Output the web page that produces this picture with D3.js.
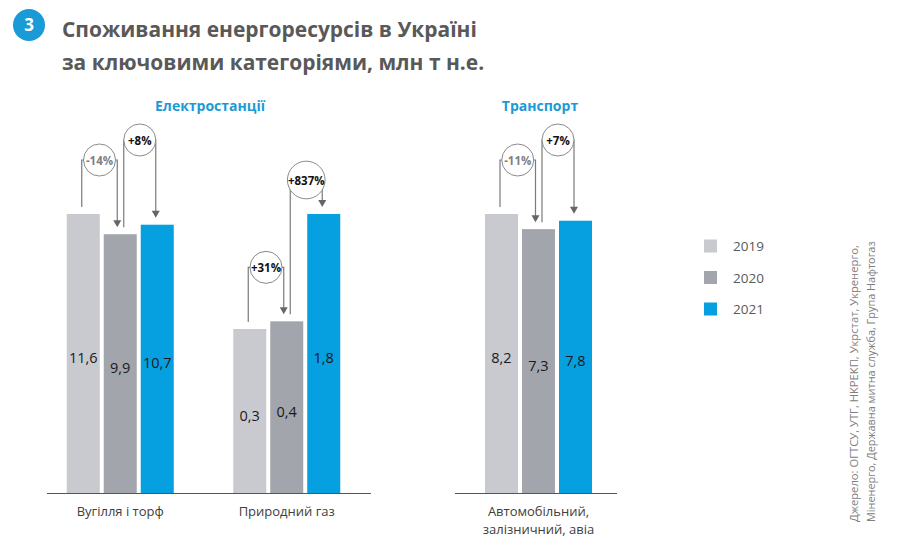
<!DOCTYPE html>
<html>
<head>
<meta charset="utf-8">
<script src="https://cdn.jsdelivr.net/npm/d3@7"></script>
<style>
  html, body { margin: 0; padding: 0; background: #ffffff; }
  svg { display: block; }
  text { font-family: "Open Sans", "Noto Sans", sans-serif; }
</style>
</head>
<body>
<svg id="chart" width="902" height="547"></svg>
<script>
// ---------- DATA ----------
const badgeNumber = "3";
const titleLines = ["Споживання енергоресурсів в Україні", "за ключовими категоріями, млн т н.е."];
const sections = ["Електростанції", "Транспорт"];
const categories = ["Вугілля і торф", "Природний газ", "Автомобільний, залізничний, авіа"];
const categorySection = ["Електростанції", "Електростанції", "Транспорт"];
const years = ["2019", "2020", "2021"];
const values2019 = [11.6, 0.3, 8.2];
const values2020 = [9.9, 0.4, 7.3];
const values2021 = [10.7, 1.8, 7.8];
const change2019to2020 = ["-14%", "+31%", "-11%"];
const change2020to2021 = ["+8%", "+837%", "+7%"];
const sourceLines = ["Джерело: ОГТСУ, УТГ, НКРЕКП, Укрстат, Укренерго,", "Міненерго, Державна митна служба, Група Нафтогаз"];

// ---------- STYLE / LAYOUT ----------
const colors = { "2019": "#c9cacf", "2020": "#a2a5ab", "2021": "#069fe0" };
const blue = "#1a9ad7";
const grey = "#595959";
const lineGrey = "#7a7a7a";
const baseY = 493;
const stub = 141;      // visual stub of bars (stylised, non-zero based)
const fullH = 279;     // height of the largest bar in each group
const panels = {
  "Електростанції": { range: [37, 370], axis: [47, 371], headerX: 210 },
  "Транспорт": { range: [455, 622], axis: [455, 617], headerX: 540 }
};

const svg = d3.select("#chart");
const valuesByYear = { "2019": values2019, "2020": values2020, "2021": values2021 };
const fmt = v => String(v.toFixed(1)).replace(".", ",");

function fitFont(sel, targetW, base) {
  sel.attr("font-size", base);
  const w = sel.node().getComputedTextLength();
  sel.attr("font-size", base * targetW / w);
}

// ---------- HEADER ----------
svg.append("circle").attr("cx", 29).attr("cy", 25).attr("r", 16).attr("fill", blue);
svg.append("text").attr("x", 29).attr("y", 31).attr("text-anchor", "middle")
  .attr("font-size", 17).attr("font-weight", 700).attr("fill", "#fff").text(badgeNumber);

const tl1 = svg.append("text").attr("x", 62).attr("y", 37).attr("font-weight", 700).attr("fill", grey).text(titleLines[0]);
fitFont(tl1, 415, 22);
const tl2 = svg.append("text").attr("x", 62).attr("y", 70).attr("font-weight", 700).attr("fill", grey).text(titleLines[1]);
tl2.attr("font-size", tl1.attr("font-size"));

// section headers
sections.forEach(s => {
  svg.append("text").attr("x", panels[s].headerX).attr("y", 111)
    .attr("text-anchor", "middle").attr("font-size", 14).attr("font-weight", 700)
    .attr("fill", blue).text(s);
  const a = panels[s].axis;
  svg.append("line").attr("x1", a[0]).attr("x2", a[1]).attr("y1", baseY + 0.5).attr("y2", baseY + 0.5)
    .attr("stroke", "#555").attr("stroke-width", 1.2);
});

// ---------- SCALES ----------
const xGroup = {};
sections.forEach(s => {
  xGroup[s] = d3.scaleBand()
    .domain(categories.filter((c, i) => categorySection[i] === s))
    .range(panels[s].range).paddingInner(0).paddingOuter(0);
});
const xYear = d3.scaleBand().domain(years).range([-53.5, 53.5]).paddingInner(4 / 37).paddingOuter(0);

categories.forEach((cat, i) => {
  const sec = categorySection[i];
  const gx = xGroup[sec](cat) + xGroup[sec].bandwidth() / 2;
  const vals = years.map(y => valuesByYear[y][i]);
  const yScale = d3.scaleLinear().domain([0, d3.max(vals)]).range([baseY - stub, baseY - fullH]);

  const g = svg.append("g");
  years.forEach((yr, k) => {
    const v = vals[k];
    const x0 = gx + xYear(yr);
    const top = yScale(v);
    g.append("rect").attr("x", x0).attr("y", top).attr("width", xYear.bandwidth())
      .attr("height", baseY - top).attr("fill", colors[yr]);
    g.append("text").attr("x", x0 + xYear.bandwidth() / 2).attr("y", (top + baseY) / 2 + 4)
      .attr("text-anchor", "middle").attr("dominant-baseline", "central")
      .attr("font-size", 14.5).attr("fill", "#1a1a1a").text(fmt(v));
  });

  // category label
  const lbl = g.append("text").attr("x", gx).attr("y", 516).attr("text-anchor", "middle")
    .attr("font-size", 13).attr("fill", "#404040");
  const parts = cat.includes(", ") && cat.length > 20 ? [cat.slice(0, cat.indexOf(", ") + 1), cat.slice(cat.indexOf(", ") + 2)] : [cat];
  parts.forEach((p, j) => lbl.append("tspan").attr("x", gx).attr("dy", j === 0 ? 0 : 17.5).text(p));

  // change annotations
  const tops = vals.map(v => yScale(v));
  const centers = years.map(yr => gx + xYear(yr) + xYear.bandwidth() / 2);
  const b1y = Math.min(tops[0], tops[1]) - 54;
  const b2y = Math.min(b1y - 20, Math.min(tops[1], tops[2]) - 34);
  const brackets = [
    { xl: centers[0] - 1.5, xr: centers[1] - 3, y: b1y, fromTop: tops[0], toTop: tops[1], label: change2019to2020[i] },
    { xl: centers[1] + 3.5, xr: centers[2] - 1.5, y: b2y, fromTop: tops[1], toTop: tops[2], label: change2020to2021[i] }
  ];
  brackets.forEach(b => {
    const cx = (b.xl + b.xr) / 2;
    const neg = b.label.startsWith("-");
    const t = g.append("text").attr("x", cx).attr("y", b.y).attr("text-anchor", "middle")
      .attr("dominant-baseline", "central").attr("font-size", 11.5).attr("font-weight", 700)
      .attr("fill", neg ? "#7f7f7f" : "#111").text(b.label);
    const tw = t.node().getComputedTextLength();
    const r = Math.max(16, tw / 2 + 0.5);
    const tipY = b.toTop - 7;
    g.insert("path", "text")
      .attr("d", `M${b.xl},${b.fromTop - 7}V${b.y}H${b.xr}V${tipY - 6}`)
      .attr("fill", "none").attr("stroke", lineGrey).attr("stroke-width", 1.2);
    g.insert("path", "text")
      .attr("d", `M${b.xr - 4},${tipY - 7}L${b.xr + 4},${tipY - 7}L${b.xr},${tipY}Z`)
      .attr("fill", "#666");
    g.insert("circle", "text").attr("cx", cx).attr("cy", b.y).attr("r", r)
      .attr("fill", "#fff").attr("stroke", "#8a8a8a").attr("stroke-width", 1);
    t.raise();
  });
});

// ---------- LEGEND ----------
years.forEach((yr, k) => {
  const cy = 246 + k * 31.5;
  svg.append("rect").attr("x", 704).attr("y", cy - 6.5).attr("width", 13).attr("height", 13).attr("fill", colors[yr]);
  svg.append("text").attr("x", 733).attr("y", cy).attr("dominant-baseline", "central")
    .attr("font-size", 13.5).attr("fill", grey).text(yr);
});

// ---------- SOURCE ----------
sourceLines.forEach((s, j) => {
  const t = svg.append("text").attr("transform", `translate(${858 + j * 16.5},522) rotate(-90)`)
    .attr("font-size", 12).attr("fill", "#808080").text(s);
  fitFont(t, j === 0 ? 277 : 281, 12);
});
</script>
</body>
</html>
